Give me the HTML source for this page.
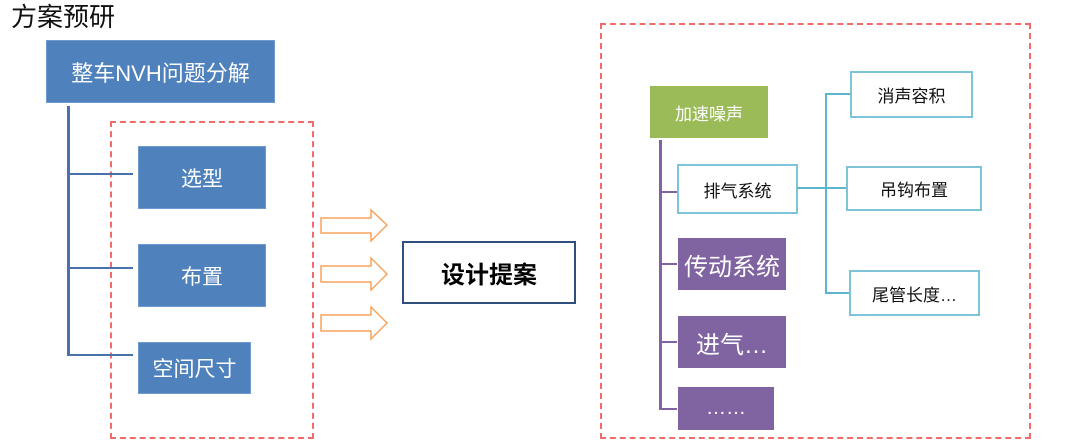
<!DOCTYPE html>
<html><head><meta charset="utf-8">
<style>
body{margin:0;background:#fff;}
#c{position:relative;width:1080px;height:446px;overflow:hidden;background:#fff;font-family:"Liberation Sans","Noto Sans CJK SC",sans-serif;}
.b{position:absolute;display:flex;align-items:center;justify-content:center;box-sizing:border-box;white-space:nowrap;}
.blue{background:#4F81BD;color:#fff;border:1px solid #6f9ad0;}
.pur{background:#8064A2;color:#fff;}
.teal{background:#fff;border:2px solid #7ec3d8;color:#111;font-size:17px;}
.l{position:absolute;}
.dash{position:absolute;border:2px dashed #f26b6b;box-sizing:border-box;}
</style></head><body><div id="c">
<div class="l" style="left:11px;top:-3px;font-size:26px;color:#111;">方案预研</div>
<div class="b blue" style="left:46px;top:40px;width:229px;height:63px;font-size:22px;">整车NVH问题分解</div>
<div class="dash" style="left:110px;top:121px;width:204px;height:318px;"></div>
<div class="l" style="left:67px;top:106px;width:3px;height:250px;background:#4a72aa;"></div>
<div class="l" style="left:67px;top:173px;width:66px;height:2px;background:#4a72aa;"></div>
<div class="l" style="left:67px;top:267px;width:66px;height:2px;background:#4a72aa;"></div>
<div class="l" style="left:67px;top:354px;width:66px;height:2px;background:#4a72aa;"></div>
<div class="b blue" style="left:138px;top:146px;width:128px;height:63px;font-size:21px;">选型</div>
<div class="b blue" style="left:138px;top:244px;width:128px;height:63px;font-size:21px;">布置</div>
<div class="b blue" style="left:138px;top:342px;width:113px;height:52px;font-size:21px;">空间尺寸</div>
<svg class="l" style="left:0;top:0" width="1080" height="446">
<g fill="#fff" stroke="#f7a35c" stroke-width="1.5">
<polygon points="321,218 371,218 371,210 387,225 371,241 371,233 321,233"/>
<polygon points="321,266 371,266 371,258 387,274 371,290 371,282 321,282"/>
<polygon points="321,315 371,315 371,307 387,323 371,339 371,331 321,331"/>
</g>
</svg>
<div class="b" style="left:402px;top:241px;width:174px;height:63px;border:2.5px solid #2f4f7f;font-size:24px;font-weight:bold;color:#000;">设计提案</div>
<div class="dash" style="left:600px;top:23px;width:431px;height:416px;"></div>
<div class="b" style="left:650px;top:86px;width:118px;height:52px;background:#9BBB59;color:#fff;font-size:17px;">加速噪声</div>
<div class="l" style="left:659px;top:140px;width:3px;height:270px;background:#8064A2;"></div>
<div class="l" style="left:659px;top:191px;width:18px;height:2px;background:#8064A2;"></div>
<div class="l" style="left:659px;top:263px;width:18px;height:2px;background:#8064A2;"></div>
<div class="l" style="left:659px;top:341px;width:18px;height:2px;background:#8064A2;"></div>
<div class="l" style="left:659px;top:408px;width:18px;height:2px;background:#8064A2;"></div>
<div class="b teal" style="left:677px;top:164px;width:121px;height:50px;">排气系统</div>
<div class="b pur" style="left:678px;top:238px;width:108px;height:52px;font-size:24px;">传动系统</div>
<div class="b pur" style="left:678px;top:316px;width:108px;height:52px;font-size:24px;">进气…</div>
<div class="b pur" style="left:678px;top:387px;width:96px;height:43px;font-size:20px;">……</div>
<div class="l" style="left:797px;top:187px;width:50px;height:2px;background:#5bb5cc;"></div>
<div class="l" style="left:825px;top:93px;width:2px;height:201px;background:#5bb5cc;"></div>
<div class="l" style="left:825px;top:93px;width:25px;height:2px;background:#5bb5cc;"></div>
<div class="l" style="left:825px;top:292px;width:25px;height:2px;background:#5bb5cc;"></div>
<div class="b teal" style="left:850px;top:71px;width:123px;height:47px;">消声容积</div>
<div class="b teal" style="left:846px;top:166px;width:136px;height:45px;">吊钩布置</div>
<div class="b teal" style="left:849px;top:270px;width:131px;height:46px;">尾管长度…</div>
</div></body></html>
